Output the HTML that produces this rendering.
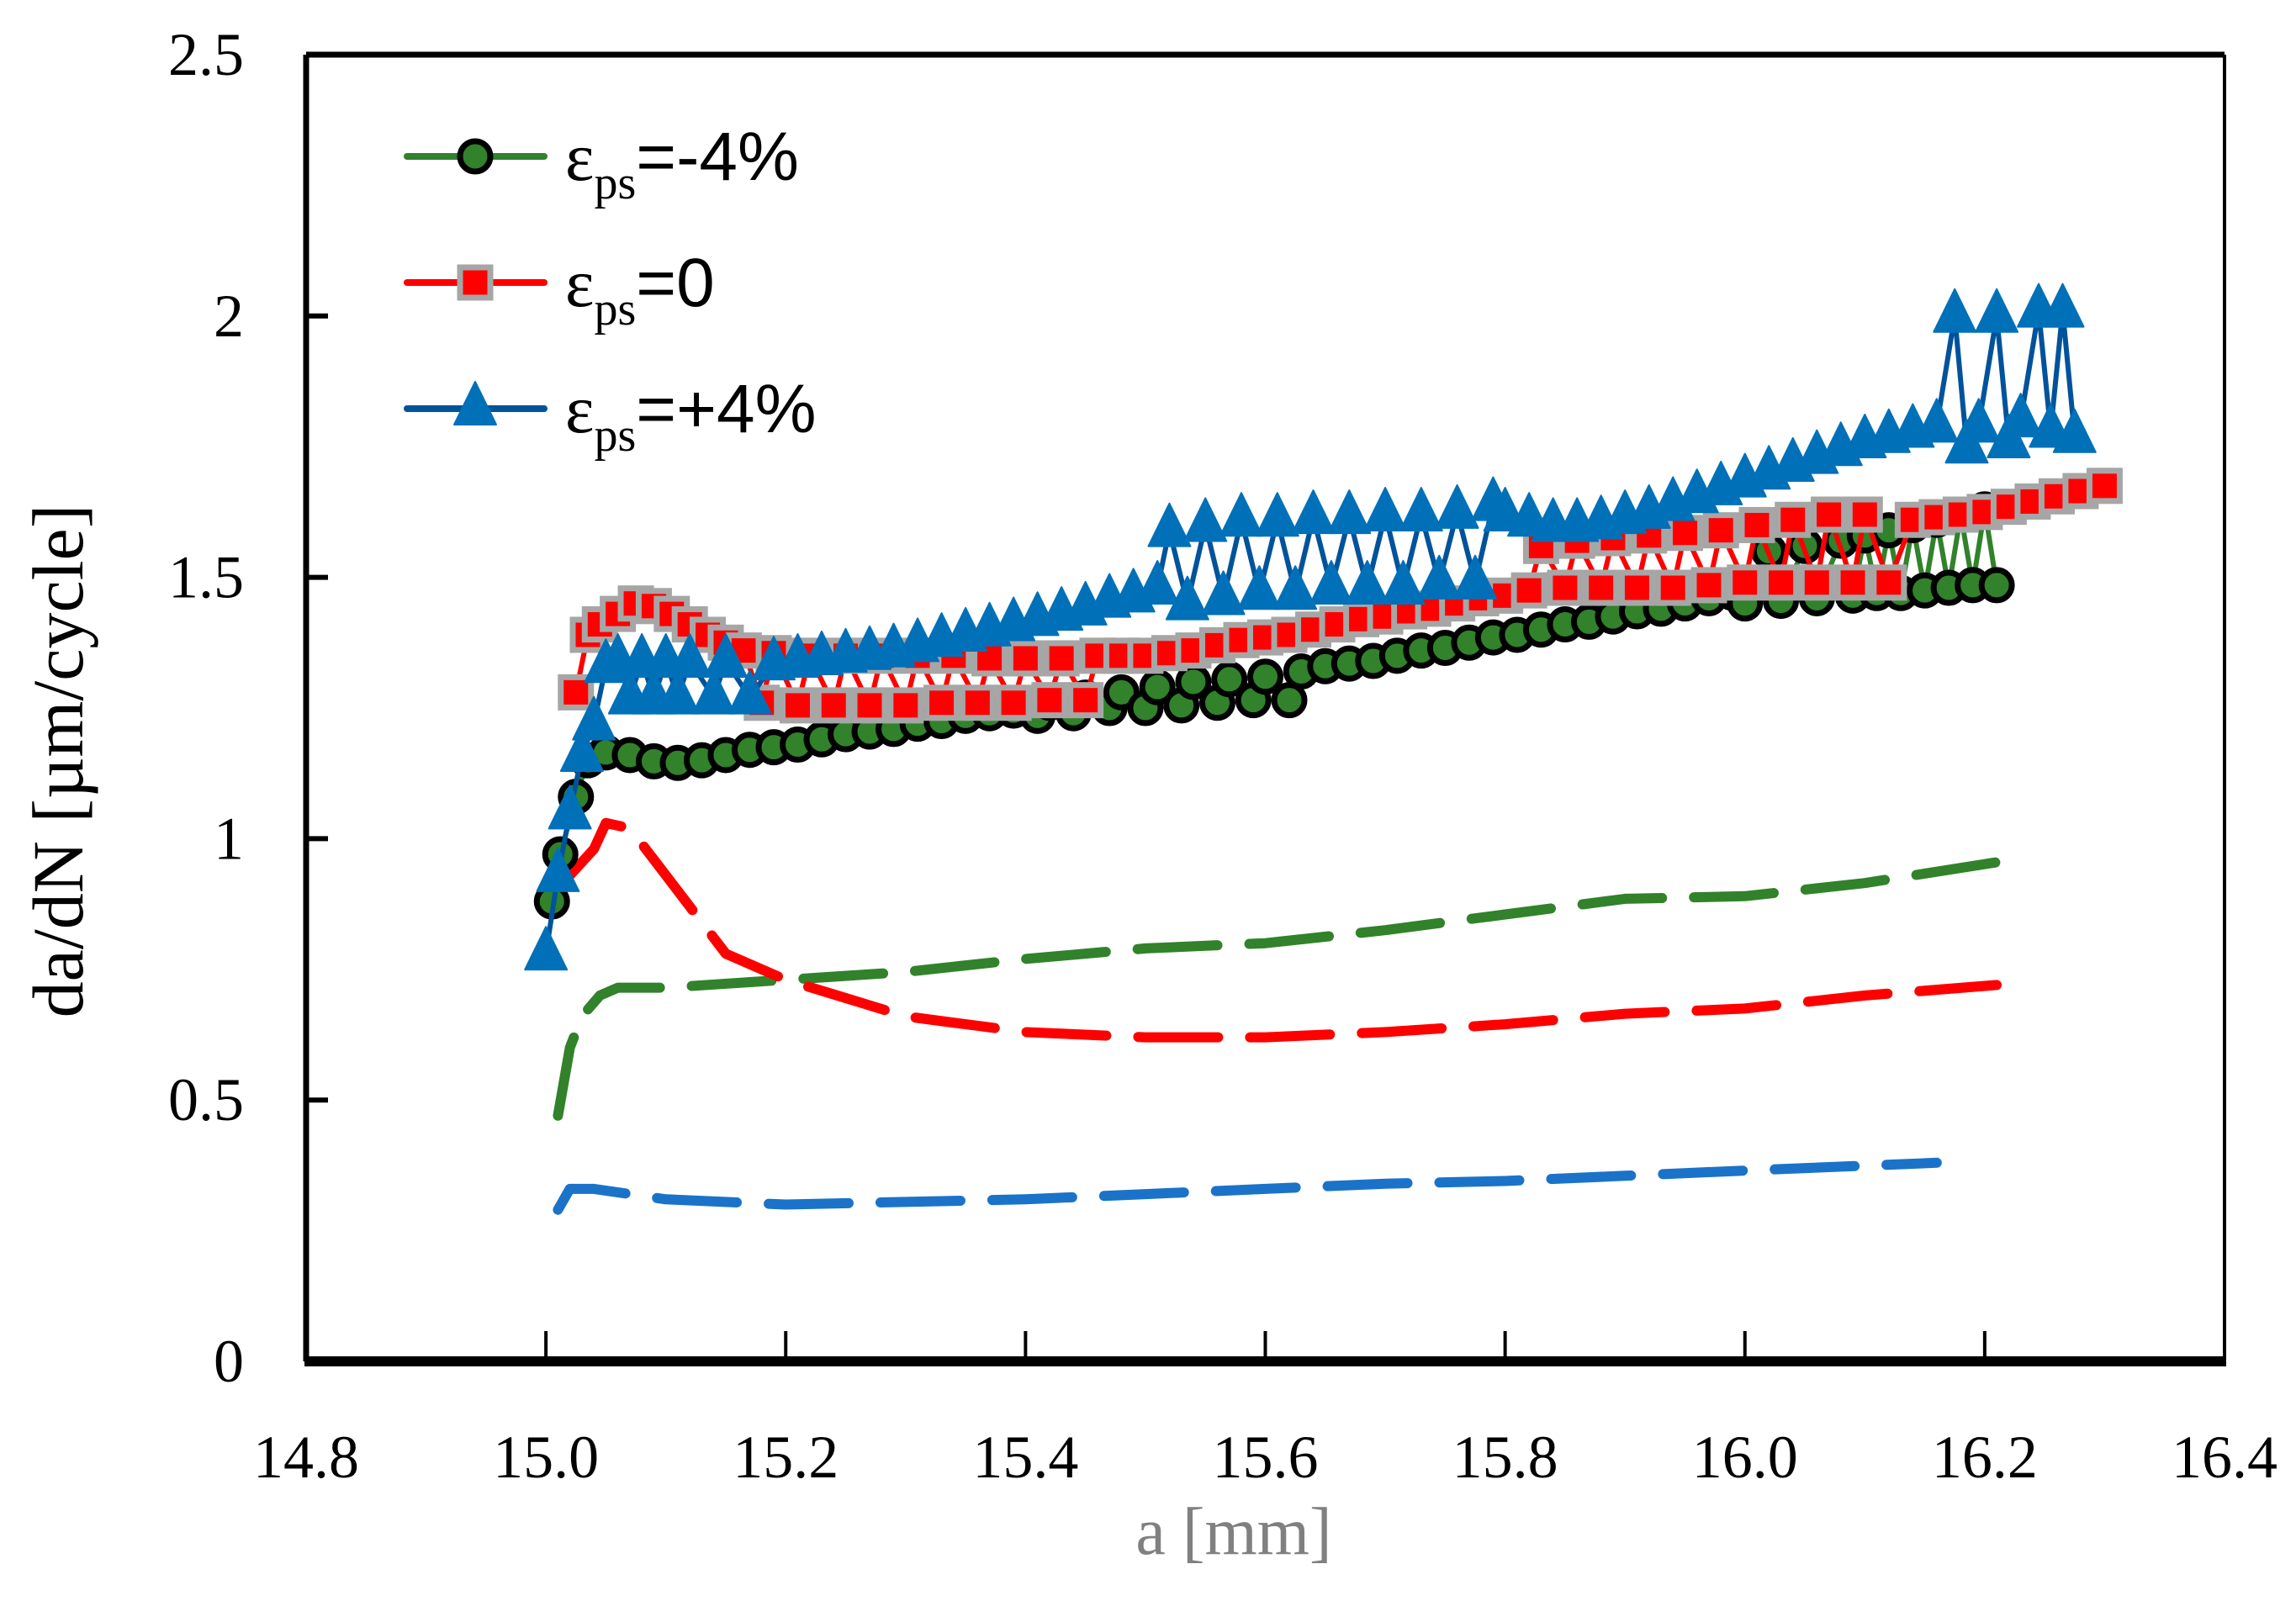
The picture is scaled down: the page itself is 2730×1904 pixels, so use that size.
<!DOCTYPE html>
<html><head><meta charset="utf-8">
<style>
html,body{margin:0;padding:0;background:#fff;}
svg{display:block;}
text{font-family:"Liberation Serif",serif;}
</style></head>
<body>
<svg id="chart" width="2730" height="1904" viewBox="0 0 2730 1904" xmlns="http://www.w3.org/2000/svg">
<rect x="0" y="0" width="2730" height="1904" fill="#fff"/>
<g id="dashed"></g>
<g id="series"></g>
<g id="axes"></g>
<g id="legend"></g>
<text x="0" y="0" transform="translate(98,905) rotate(-90)" text-anchor="middle" font-size="86" fill="#000">da/dN [µm/cycle]</text>
<text x="1467" y="1848" text-anchor="middle" font-size="80" fill="#808080">a [mm]</text>
</svg>
<script>
const xTicks = [14.8,15.0,15.2,15.4,15.6,15.8,16.0,16.2,16.4];
const xTickLabels = ["14.8","15.0","15.2","15.4","15.6","15.8","16.0","16.2","16.4"];
const yTicks = [0,0.5,1,1.5,2,2.5];
const yTickLabels = ["0","0.5","1","1.5","2","2.5"];

const greenX = [15.005,15.012,15.025,15.035,15.05,15.07,15.09,15.11,15.13,15.15,15.17,15.19,15.21,15.23,15.25,15.27,15.29,15.31,15.33,15.35,15.37,15.39,15.41,15.42,15.44,15.45,15.47,15.48,15.50,15.51,15.53,15.54,15.56,15.57,15.59,15.60,15.62,15.63,15.65,15.67,15.69,15.71,15.73,15.75,15.77,15.79,15.81,15.83,15.85,15.87,15.89,15.91,15.93,15.95,15.97,15.99,16.00,16.02,16.03,16.05,16.06,16.08,16.09,16.10,16.11,16.12,16.13,16.14,16.15,16.16,16.17,16.18,16.19,16.20,16.21];
const greenY = [0.88,0.97,1.08,1.15,1.165,1.16,1.148,1.145,1.15,1.16,1.17,1.175,1.18,1.19,1.2,1.205,1.21,1.22,1.225,1.235,1.24,1.245,1.235,1.26,1.24,1.27,1.25,1.28,1.25,1.29,1.255,1.30,1.26,1.305,1.265,1.31,1.265,1.32,1.33,1.335,1.34,1.35,1.36,1.365,1.375,1.385,1.39,1.40,1.41,1.415,1.425,1.435,1.44,1.45,1.46,1.47,1.45,1.55,1.455,1.56,1.46,1.57,1.465,1.58,1.47,1.59,1.47,1.60,1.475,1.61,1.48,1.62,1.485,1.63,1.485];

const redX = [15.025,15.035,15.045,15.06,15.075,15.09,15.105,15.12,15.135,15.15,15.165,15.18,15.19,15.21,15.22,15.24,15.25,15.27,15.28,15.30,15.31,15.33,15.34,15.36,15.37,15.39,15.40,15.42,15.43,15.45,15.46,15.48,15.50,15.52,15.54,15.56,15.58,15.60,15.62,15.64,15.66,15.68,15.70,15.72,15.74,15.76,15.78,15.80,15.82,15.83,15.85,15.86,15.88,15.89,15.91,15.92,15.94,15.95,15.97,15.98,16.00,16.01,16.03,16.04,16.06,16.07,16.09,16.10,16.12,16.14,16.16,16.18,16.20,16.22,16.24,16.26,16.28,16.30];
const redY = [1.28,1.39,1.41,1.43,1.45,1.445,1.43,1.41,1.39,1.375,1.36,1.26,1.355,1.255,1.35,1.255,1.35,1.255,1.35,1.255,1.35,1.26,1.35,1.26,1.345,1.26,1.345,1.265,1.345,1.265,1.35,1.35,1.35,1.355,1.36,1.37,1.38,1.385,1.39,1.40,1.41,1.42,1.425,1.435,1.44,1.45,1.46,1.465,1.475,1.56,1.48,1.57,1.48,1.575,1.48,1.58,1.48,1.585,1.485,1.59,1.49,1.60,1.49,1.61,1.49,1.62,1.49,1.62,1.49,1.61,1.615,1.62,1.625,1.635,1.645,1.655,1.665,1.675];

const blueX = [15.0,15.01,15.02,15.03,15.04,15.05,15.06,15.07,15.08,15.09,15.10,15.11,15.12,15.14,15.15,15.17,15.19,15.21,15.23,15.25,15.27,15.29,15.31,15.33,15.35,15.37,15.39,15.41,15.43,15.45,15.47,15.49,15.51,15.52,15.535,15.55,15.565,15.58,15.595,15.61,15.625,15.64,15.655,15.67,15.685,15.70,15.715,15.73,15.745,15.76,15.775,15.79,15.80,15.82,15.84,15.86,15.88,15.90,15.92,15.94,15.96,15.98,16.00,16.02,16.04,16.06,16.08,16.10,16.12,16.14,16.16,16.175,16.185,16.195,16.21,16.22,16.23,16.245,16.255,16.265,16.275];
const blueY = [0.78,0.93,1.05,1.16,1.22,1.33,1.34,1.27,1.34,1.27,1.34,1.27,1.34,1.27,1.34,1.27,1.335,1.34,1.345,1.35,1.355,1.36,1.37,1.38,1.39,1.40,1.41,1.42,1.43,1.44,1.455,1.465,1.48,1.59,1.45,1.60,1.46,1.61,1.47,1.61,1.47,1.615,1.48,1.615,1.48,1.62,1.48,1.62,1.49,1.625,1.49,1.64,1.62,1.61,1.60,1.60,1.605,1.615,1.625,1.64,1.655,1.67,1.685,1.70,1.715,1.73,1.745,1.76,1.77,1.78,1.79,2.0,1.75,1.79,2.0,1.76,1.80,2.01,1.78,2.01,1.77];

const gDashX = [15.01,15.02,15.03,15.045,15.06,15.1,15.2,15.3,15.4,15.5,15.6,15.7,15.8,15.9,16.0,16.1,16.21];
const gDashY = [0.47,0.6,0.66,0.7,0.715,0.715,0.73,0.745,0.77,0.79,0.80,0.825,0.855,0.885,0.89,0.915,0.955];
const rDashX = [15.02,15.04,15.05,15.07,15.1,15.15,15.2,15.3,15.4,15.5,15.6,15.7,15.8,15.9,16.0,16.1,16.21];
const rDashY = [0.93,0.98,1.03,1.02,0.93,0.78,0.73,0.66,0.63,0.62,0.62,0.63,0.645,0.665,0.675,0.70,0.72];
const bDashX = [15.01,15.02,15.04,15.1,15.2,15.3,15.4,15.5,15.6,15.7,15.8,15.9,16.0,16.16];
const bDashY = [0.29,0.33,0.33,0.31,0.30,0.305,0.31,0.32,0.33,0.34,0.345,0.355,0.365,0.38];

const L=364,R=2645,T=65,B=1619;
function sx(v){return L+(v-14.8)/1.6*(R-L);}
function sy(v){return B-v/2.5*(B-T);}
const NS="http://www.w3.org/2000/svg";
function mk(tag,attrs,parent){const e=document.createElementNS(NS,tag);for(const k in attrs)e.setAttribute(k,attrs[k]);parent.appendChild(e);return e;}
function pts(xs,ys){return xs.map((x,i)=>sx(x).toFixed(1)+","+sy(ys[i]).toFixed(1)).join(" ");}

const dg=document.getElementById('dashed');
[[gDashX,gDashY,'#31822b','model-line-minus4'],[rDashX,rDashY,'#ff0000','model-line-zero'],[bDashX,bDashY,'#1a73c8','model-line-plus4']].forEach(s=>{
  const p=mk('polyline',{points:pts(s[0],s[1]),fill:'none',stroke:s[2],'stroke-width':12,'stroke-dasharray':'95 38','stroke-linecap':'round','stroke-linejoin':'round'},dg);
  
  
});

const sg=document.getElementById('series');
function circle(g,x,y){mk('circle',{cx:x,cy:y,r:18,fill:'#31822b',stroke:'#000','stroke-width':7},g);}
function square(g,x,y){mk('rect',{x:x-18,y:y-18,width:36,height:36,fill:'#ff0000',stroke:'#a6a6a6','stroke-width':7},g);}
function tri(g,x,y){mk('polygon',{points:`${x},${y-32} ${x+25},${y+19} ${x-25},${y+19}`,fill:'#0070b8',stroke:'#0070b8','stroke-width':2,'stroke-linejoin':'round'},g);}
[[greenX,greenY,'#31822b',circle,'series-minus4'],[redX,redY,'#ff0000',square,'series-zero'],[blueX,blueY,'#00539b',tri,'series-plus4']].forEach(s=>{
  const g=mk('g',{},sg);
  
  
  mk('polyline',{points:pts(s[0],s[1]),fill:'none',stroke:s[2],'stroke-width':6,'stroke-linejoin':'round'},g);
  s[0].forEach((x,i)=>s[3](g,sx(x),sy(s[1][i])));
});

const ag=document.getElementById('axes');
xTicks.forEach((v,i)=>{
  const x=sx(v);
  if(i>0&&i<xTicks.length-1) mk('line',{x1:x,y1:B,x2:x,y2:B-36,stroke:'#000','stroke-width':4},ag);
  const t=mk('text',{x:x,y:1757,'text-anchor':'middle','font-size':72,fill:'#000'},ag);
  t.textContent=xTickLabels[i];
  
  
});
yTicks.forEach((v,i)=>{
  const y=sy(v);
  if(i>0&&i<yTicks.length-1) mk('line',{x1:L,y1:y,x2:L+26,y2:y,stroke:'#000','stroke-width':6},ag);
  const t=mk('text',{x:290,y:y+24,'text-anchor':'end','font-size':72,fill:'#000'},ag);
  t.textContent=yTickLabels[i];
  
  
});
mk('line',{x1:L,y1:T,x2:R,y2:T,stroke:'#000','stroke-width':7},ag);
mk('line',{x1:L,y1:T,x2:L,y2:B,stroke:'#000','stroke-width':7},ag);
mk('line',{x1:R,y1:T,x2:R,y2:B,stroke:'#000','stroke-width':4},ag);
mk('line',{x1:L-2,y1:B,x2:R+2,y2:B,stroke:'#000','stroke-width':12},ag);

const lg=document.getElementById('legend');
const legendLabels=["-4%","0","+4%"];
const legendColors=['#31822b','#ff0000','#00539b'];
const legendMarkers=[circle,square,tri];
const legendNames=['legend-entry-minus4','legend-entry-zero','legend-entry-plus4'];
legendLabels.forEach((lab,i)=>{
  const y=186+i*150;
  const g=mk('g',{},lg);
  
  
  mk('line',{x1:484,y1:y,x2:647,y2:y,stroke:legendColors[i],'stroke-width':8,'stroke-linecap':'round'},g);
  legendMarkers[i](g,565,y);
  const t=mk('text',{x:672,y:y+28,'font-size':82,fill:'#000'},g);
  t.innerHTML='ε<tspan font-size="56" dy="22">ps</tspan><tspan dy="-22" style="font-family:\'Liberation Sans\',sans-serif">='+lab+'</tspan>';
});
</script>
</body></html>
